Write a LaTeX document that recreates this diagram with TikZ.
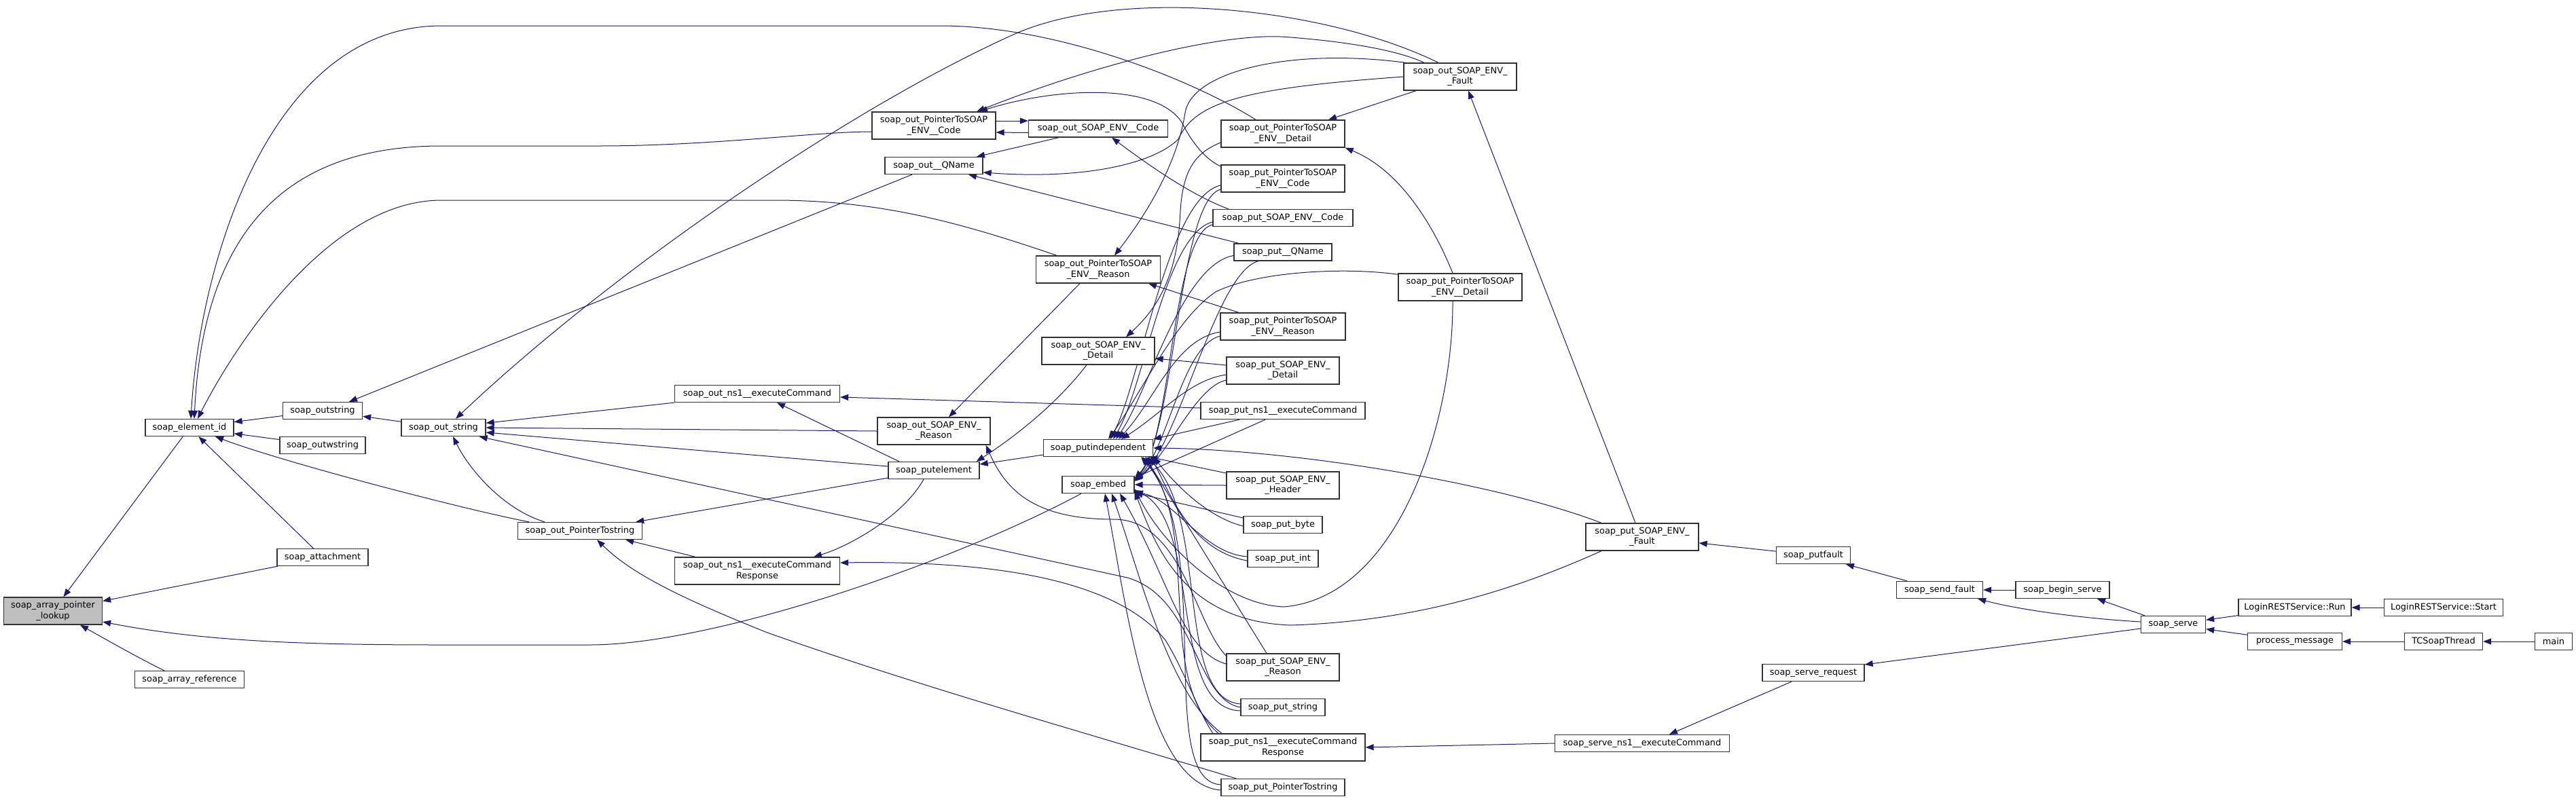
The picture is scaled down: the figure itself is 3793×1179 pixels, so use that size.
\documentclass[tikz,border=0pt]{standalone}
\usepackage{fontspec}
\setmainfont{DejaVu Sans}
\usetikzlibrary{arrows.meta,backgrounds}
\definecolor{edgec}{HTML}{191970}
\definecolor{rootfill}{HTML}{BFBFBF}
\begin{document}
\begin{tikzpicture}[x=1pt,y=-1pt,
  fn/.style={draw=black!80, line width=1.3pt, fill=white, rectangle, inner xsep=2pt, inner ysep=0pt, minimum height=25pt, align=center, font=\fontsize{12.9}{15.3}\selectfont},
  fntwo/.style={fn, minimum height=40pt},
  rootn/.style={fntwo, fill=rootfill},
  edg/.style={draw=edgec, line width=1pt, line join=round, {Triangle[length=12pt,width=9pt]}-}]
\useasboundingbox (0,0) rectangle (3793,1179);
% nodes
\node[rootn, minimum width=145pt] (root) at (78,900) {soap\_array\_pointer\\\_lookup};
\node[fn, minimum width=130pt] (eid) at (279,630) {soap\_element\_id};
\node[fn, minimum width=117pt] (ostr) at (475,605) {soap\_outstring};
\node[fn, minimum width=126pt] (owstr) at (475,656) {soap\_outwstring};
\node[fn, minimum width=134pt] (att) at (475,821) {soap\_attachment};
\node[fn, minimum width=161pt] (aref) at (279,1001) {soap\_array\_reference};
\node[fn, minimum width=124pt] (outs) at (653,630) {soap\_out\_string};
\node[fn, minimum width=243pt] (oexec) at (1115,580) {soap\_out\_ns1\_\_executeCommand};
\node[fn, minimum width=183pt] (optr) at (854,782) {soap\_out\_PointerTostring};
\node[fntwo, minimum width=243pt] (oexecr) at (1115,841) {soap\_out\_ns1\_\_executeCommand\\Response};
\node[fntwo, minimum width=182pt] (opcode) at (1375,185) {soap\_out\_PointerToSOAP\\\_ENV\_\_Code};
\node[fn, minimum width=205pt] (ocode) at (1617,189.5) {soap\_out\_SOAP\_ENV\_\_Code};
\node[fn, minimum width=144pt] (oqname) at (1375,244) {soap\_out\_\_QName};
\node[fntwo, minimum width=183pt] (opreason) at (1617,397) {soap\_out\_PointerToSOAP\\\_ENV\_\_Reason};
\node[fntwo, minimum width=166pt] (odetail) at (1617,517) {soap\_out\_SOAP\_ENV\_\\\_Detail};
\node[fntwo, minimum width=166pt] (oreason) at (1375,635) {soap\_out\_SOAP\_ENV\_\\\_Reason};
\node[fn, minimum width=134pt] (putel) at (1375,693) {soap\_putelement};
\node[fn, minimum width=161pt] (pind) at (1617,660) {soap\_putindependent};
\node[fn, minimum width=106pt] (embed) at (1617,714) {soap\_embed};
\node[fntwo, minimum width=182pt] (opdetail) at (1889,197) {soap\_out\_PointerToSOAP\\\_ENV\_\_Detail};
\node[fntwo, minimum width=182pt] (ppcode) at (1889,263) {soap\_put\_PointerToSOAP\\\_ENV\_\_Code};
\node[fn, minimum width=206pt] (pcode) at (1889,321) {soap\_put\_SOAP\_ENV\_\_Code};
\node[fn, minimum width=144pt] (pqname) at (1889,371.5) {soap\_put\_\_QName};
\node[fntwo, minimum width=184pt] (ppreason) at (1889,481) {soap\_put\_PointerToSOAP\\\_ENV\_\_Reason};
\node[fntwo, minimum width=166pt] (pdetail) at (1889,546) {soap\_put\_SOAP\_ENV\_\\\_Detail};
\node[fn, minimum width=242pt] (pexec) at (1889,605) {soap\_put\_ns1\_\_executeCommand};
\node[fntwo, minimum width=166pt] (pheader) at (1889,715) {soap\_put\_SOAP\_ENV\_\\\_Header};
\node[fn, minimum width=116pt] (pbyte) at (1889,773) {soap\_put\_byte};
\node[fn, minimum width=104pt] (pint) at (1889,823) {soap\_put\_int};
\node[fntwo, minimum width=166pt] (preason) at (1889,983) {soap\_put\_SOAP\_ENV\_\\\_Reason};
\node[fn, minimum width=124pt] (pstring) at (1889,1042) {soap\_put\_string};
\node[fntwo, minimum width=242pt] (pexecr) at (1889,1101) {soap\_put\_ns1\_\_executeCommand\\Response};
\node[fn, minimum width=182pt] (pptrstr) at (1889,1160) {soap\_put\_PointerTostring};
\node[fntwo, minimum width=166pt] (ofault) at (2150,113) {soap\_out\_SOAP\_ENV\_\\\_Fault};
\node[fntwo, minimum width=182pt] (ppdetail) at (2150,423) {soap\_put\_PointerToSOAP\\\_ENV\_\_Detail};
\node[fntwo, minimum width=166pt] (pfault) at (2418,791) {soap\_put\_SOAP\_ENV\_\\\_Fault};
\node[fn, minimum width=257pt] (servens1) at (2418,1095) {soap\_serve\_ns1\_\_executeCommand};
\node[fn, minimum width=109pt] (putfault) at (2670,818) {soap\_putfault};
\node[fn, minimum width=150pt] (sreq) at (2670,991) {soap\_serve\_request};
\node[fn, minimum width=127pt] (sendf) at (2856,869) {soap\_send\_fault};
\node[fn, minimum width=138pt] (bserve) at (3037,869) {soap\_begin\_serve};
\node[fn, minimum width=95pt] (serve) at (3200,920) {soap\_serve};
\node[fn, minimum width=166pt] (lrun) at (3379,895) {LoginRESTService::Run};
\node[fn, minimum width=175pt] (lstart) at (3598,895) {LoginRESTService::Start};
\node[fn, minimum width=139pt] (pmsg) at (3379,945) {process\_message};
\node[fn, minimum width=115pt] (tcs) at (3598,945) {TCSoapThread};
\node[fn, minimum width=55pt] (main) at (3760,945) {main};
\begin{pgfonlayer}{background}
\fill[white] (0,0) rectangle (3793,1179);
% left part
\draw[edg] (root) -- (eid);
\draw[edg] (root) -- (att);
\draw[edg] ([xshift=40pt]root.south) .. controls (170,950) and (215,975) .. ([xshift=-37pt]aref.north);
\draw[edg] ([yshift=-16pt]root.east) .. controls (300,945) and (450,950) .. (650,950) -- (868,950) .. controls (1050,950) and (1400,830) .. ([xshift=-25pt]embed.south);
\draw[edg] (eid) -- (ostr);
\draw[edg] (eid) -- (owstr);
\draw[edg] (eid) -- (att);
\draw[edg] ([xshift=38pt]eid.south) .. controls (420,682) and (690,752) .. ([xshift=-75pt]optr.north);
\draw[edg] ([xshift=2pt]eid.north) .. controls (295,380) and (400,38) .. (650,38) -- (1384,38) .. controls (1560,38) and (1760,120) .. ([xshift=-40pt]opdetail.north);
\draw[edg] ([xshift=7pt]eid.north) .. controls (300,330) and (430,215) .. (650,215) -- (880,215) .. controls (1050,215) and (1200,194) .. ([yshift=-9pt]opcode.west);
\draw[edg] ([xshift=12pt]eid.north) .. controls (340,520) and (480,295) .. (650,295) -- (1140,295) .. controls (1300,295) and (1420,330) .. ([xshift=-61pt]opreason.north);
\draw[edg] ([xshift=39pt]ostr.north) -- ([xshift=-32pt]oqname.south);
\draw[edg] (ostr) -- (outs);
% soap_out_string
\draw[edg] ([xshift=18pt]outs.north) .. controls (900,400) and (1250,160) .. (1492,51) .. controls (1650,-20) and (1950,10) .. ([xshift=-32pt]ofault.north);
\draw[edg] (outs) -- (oexec);
\draw[edg] (outs.east) -- (oreason.west);
\draw[edg] ([yshift=-7pt]outs.east) -- ([yshift=6pt]putel.west);
\draw[edg] ([xshift=-10pt]outs.south east) -- (1660,851) .. controls (1760,880) and (1760,1030) .. (pstring.west);
\draw[edg] ([xshift=14pt]outs.south) .. controls (690,690) and (740,750) .. ([xshift=-52pt]optr.north);
% soap_out_PointerTostring
\draw[edg] ([xshift=-10pt]optr.north east) -- ([yshift=-11pt]putel.west);
\draw[edg] ([xshift=-25pt]optr.south east) -- ([xshift=-91pt]oexecr.north);
\draw[edg] ([xshift=25pt]optr.south) .. controls (930,845) and (1000,880) .. (1130,932) .. controls (1350,1010) and (1600,1080) .. ([xshift=-69pt]pptrstr.north);
% execute command
\draw[edg] ([xshift=29pt]oexec.south) -- ([xshift=-51pt]putel.north);
\draw[edg] ([yshift=-5pt]oexec.east) -- ([yshift=4pt]pexec.west);
\draw[edg] ([xshift=83pt]oexecr.north) .. controls (1250,805) and (1330,760) .. ([xshift=-15pt]putel.south);
\draw[edg] ([yshift=12pt]oexecr.east) .. controls (1450,826) and (1640,850) .. (1716,943) .. controls (1745,990) and (1765,1050) .. ([xshift=-103pt]pexecr.north);
% code / qname
\draw[edg] ([yshift=-10pt]opcode.east) -- ([yshift=-6pt]ocode.west);
\draw[edg] ([yshift=11.5pt]ocode.west) -- ([yshift=7pt]opcode.east);
\draw[edg] ([xshift=63pt]oqname.north) -- ([xshift=-58pt]ocode.south);
\draw[edg] ([xshift=63pt]opcode.north) .. controls (1600,100) and (1800,45) .. (1900,55) .. controls (1990,62) and (2060,75) .. ([xshift=-53pt]ofault.north);
\draw[edg] ([xshift=67pt]opcode.north) .. controls (1550,130) and (1700,120) .. (1740,180) .. controls (1755,210) and (1775,235) .. ([yshift=18pt]ppcode.west);
\draw[edg] ([xshift=20pt]ocode.south) .. controls (1700,250) and (1760,290) .. ([xshift=-80pt]pcode.north);
\draw[edg] ([xshift=51pt]oqname.south) -- ([xshift=-65pt]pqname.north);
\draw[edg] ([yshift=-10pt]oqname.east) .. controls (1600,265) and (1700,240) .. (1735,205) .. controls (1760,150) and (1830,130) .. (ofault.west);
\draw[edg] ([xshift=24pt]opreason.north) .. controls (1700,300) and (1735,230) .. (1745,166) .. controls (1755,105) and (1900,70) .. ([xshift=-80pt]ofault.north);
% detail / reason / fault
\draw[edg] ([xshift=67pt]opdetail.north) -- ([xshift=-65pt]ofault.south);
\draw[edg] (opdetail.south east) .. controls (2060,250) and (2110,330) .. ([xshift=-11pt]ppdetail.north);
\draw[edg] ([xshift=12pt]ofault.south) -- ([xshift=-10pt]pfault.north);
\draw[edg] ([xshift=41pt]odetail.north) .. controls (1720,440) and (1735,380) .. (1738,310) .. controls (1742,250) and (1760,225) .. ([yshift=-13pt]opdetail.west);
\draw[edg] ([yshift=-11pt]odetail.east) -- ([yshift=8pt]pdetail.west);
\draw[edg] ([xshift=74pt]opreason.south) -- ([xshift=-65pt]ppreason.north);
\draw[edg] ([xshift=22pt]oreason.north) -- ([xshift=-27pt]opreason.south);
\draw[edg] ([xshift=-5pt]putel.north east) .. controls (1500,640) and (1560,590) .. ([xshift=-17pt]odetail.south);
\draw[edg] ([yshift=9pt]putel.east) -- ([yshift=-10pt]pind.west);
\draw[edg] ([xshift=-7pt]oreason.south east) .. controls (1480,720) and (1520,765) .. (1640,765) .. controls (1740,765) and (1760,920) .. ([yshift=17pt]preason.west);
% put nodes -> putindependent / embed (upper group)
\draw[edg] ([xshift=18pt]pind.north) .. controls (1680,560) and (1720,290) .. ([yshift=-10pt]ppcode.west);
\draw[edg] ([yshift=9pt]embed.east) .. controls (1730,640) and (1735,295) .. ([yshift=-16pt]ppcode.west);
\draw[edg] ([xshift=22pt]pind.north) .. controls (1685,570) and (1715,345) .. ([yshift=-6pt]pcode.west);
\draw[edg] ([yshift=8pt]embed.east) .. controls (1725,650) and (1725,345) .. ([yshift=-10pt]pcode.west);
\draw[edg] ([xshift=26pt]pind.north) .. controls (1690,580) and (1740,390) .. ([yshift=-5pt]pqname.west);
\draw[edg] ([yshift=7pt]embed.east) .. controls (1735,660) and (1790,400) .. ([xshift=-36pt]pqname.south);
\draw[edg] ([xshift=30pt]pind.north) .. controls (1700,590) and (1730,500) .. ([yshift=-8pt]ppreason.west);
\draw[edg] ([yshift=6pt]embed.east) .. controls (1720,660) and (1740,510) .. ([yshift=-14pt]ppreason.west);
\draw[edg] ([xshift=34pt]pind.north) .. controls (1710,610) and (1750,560) .. ([yshift=-6pt]pdetail.west);
\draw[edg] ([yshift=5pt]embed.east) .. controls (1720,670) and (1760,570) .. ([yshift=-14pt]pdetail.west);
\draw[edg] (pind.north east) -- ([xshift=-64pt]pexec.south);
\draw[edg] ([yshift=10pt]embed.east) -- ([xshift=-26pt]pexec.south);
\draw[edg] ([xshift=15pt]pind.north) .. controls (1680,580) and (1730,470) .. (1790,430) .. controls (1850,400) and (1980,393) .. ([yshift=-2pt]ppdetail.north west);
\draw[edg] ([yshift=-6pt]embed.east) .. controls (1710,800) and (1800,890) .. (1890,894) .. controls (2060,880) and (2140,620) .. ([xshift=-11pt]ppdetail.south);
% lower group
\draw[edg] (pind.east) .. controls (1900,662) and (2200,710) .. ([xshift=-60pt]pfault.north);
\draw[edg] ([yshift=-10pt]embed.east) .. controls (1700,800) and (1740,915) .. (1900,921) .. controls (2100,915) and (2250,860) .. ([xshift=-60pt]pfault.south);
\draw[edg] (embed.east) -- (pheader.west);
\draw[edg] ([xshift=-6pt]pind.south east) -- ([yshift=18pt]pheader.west);
\draw[edg] (pind.south east) .. controls (1720,700) and (1770,760) .. ([yshift=-2pt]pbyte.west);
\draw[edg] ([yshift=-12pt]embed.east) -- ([yshift=10pt]pbyte.west);
\draw[edg] ([xshift=-4pt]pind.south east) .. controls (1720,720) and (1750,810) .. ([yshift=-3pt]pint.west);
\draw[edg] ([yshift=-11pt]embed.east) .. controls (1730,735) and (1770,815) .. ([yshift=3pt]pint.west);
\draw[edg] ([xshift=-12pt]pind.south east) -- ([xshift=-24pt]preason.north);
\draw[edg] ([xshift=32pt]embed.south) .. controls (1720,850) and (1740,960) .. ([yshift=5pt]preason.west);
\draw[edg] ([xshift=-10pt]pind.south east) .. controls (1780,760) and (1730,1030) .. ([yshift=5pt]pstring.west);
\draw[edg] ([yshift=-8pt]embed.east) .. controls (1770,770) and (1720,1045) .. ([yshift=-5pt]pstring.west);
\draw[edg] ([xshift=-16pt]pind.south east) .. controls (1770,780) and (1700,1000) .. ([xshift=-95pt]pexecr.north);
\draw[edg] ([xshift=20pt]embed.south) .. controls (1680,850) and (1720,1020) .. ([xshift=-90pt]pexecr.north);
\draw[edg] ([xshift=-18pt]pind.south east) .. controls (1790,800) and (1700,1150) .. ([yshift=4pt]pptrstr.west);
\draw[edg] ([xshift=10pt]embed.south) .. controls (1660,900) and (1690,1155) .. ([yshift=-4pt]pptrstr.west);
% right part
\draw[edg] (pfault) -- (putfault);
\draw[edg] (putfault) -- (sendf);
\draw[edg] (sendf) -- (bserve);
\draw[edg] ([xshift=-8pt]sendf.south east) .. controls (2980,900) and (3080,912) .. ([yshift=4pt]serve.west);
\draw[edg] ([xshift=51pt]bserve.south) -- ([xshift=-42pt]serve.north);
\draw[edg] ([yshift=12pt]sreq.east) -- ([yshift=-6pt]serve.west);
\draw[edg] ([xshift=40pt]servens1.north) -- ([xshift=-32pt]sreq.south);
\draw[edg] (pexecr.east) -- (servens1.west);
\draw[edg] (serve) -- (lrun);
\draw[edg] (serve) -- (pmsg);
\draw[edg] (lrun) -- (lstart);
\draw[edg] (pmsg) -- (tcs);
\draw[edg] (tcs) -- (main);
\end{pgfonlayer}
\end{tikzpicture}
\end{document}
